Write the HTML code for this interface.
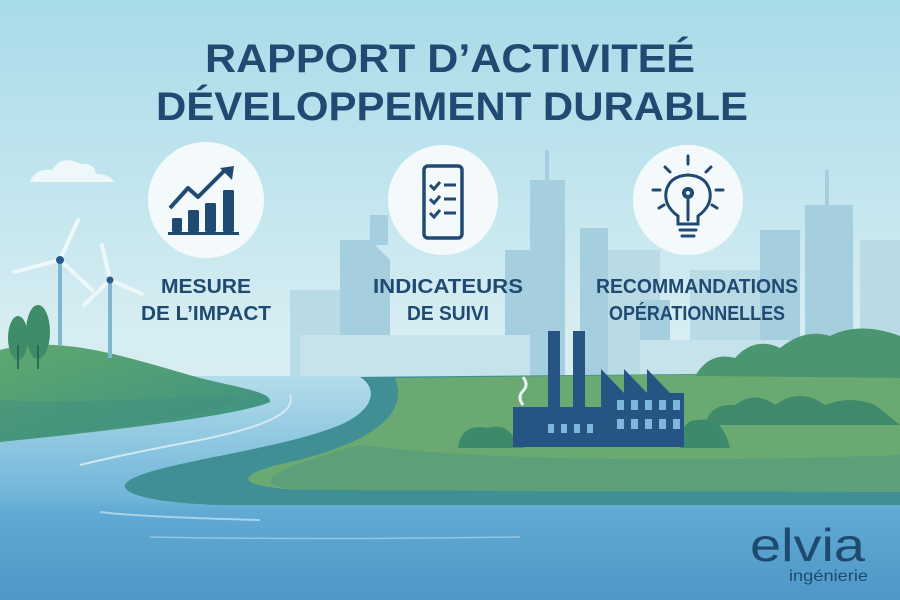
<!DOCTYPE html>
<html><head><meta charset="utf-8"><style>
html,body{margin:0;padding:0;width:900px;height:600px;overflow:hidden}
svg{display:block}
text{font-family:"Liberation Sans",sans-serif}
</style></head><body>
<svg width="900" height="600" viewBox="0 0 900 600" xmlns="http://www.w3.org/2000/svg">
<defs>
<linearGradient id="sky" x1="0" y1="0" x2="0" y2="1">
<stop offset="0" stop-color="#a8dbe9"/><stop offset="0.55" stop-color="#d6edf2"/><stop offset="1" stop-color="#dcefef"/>
</linearGradient>
<linearGradient id="water" x1="0" y1="378" x2="0" y2="600" gradientUnits="userSpaceOnUse">
<stop offset="0" stop-color="#b2dcea"/><stop offset="0.55" stop-color="#6fb4d8"/><stop offset="0.6" stop-color="#60aad4"/><stop offset="1" stop-color="#4e97c7"/>
</linearGradient>
<linearGradient id="hillL" x1="0" y1="0" x2="1" y2="1">
<stop offset="0" stop-color="#5fa86e"/><stop offset="1" stop-color="#3a9084"/>
</linearGradient>
</defs>
<rect width="900" height="600" fill="url(#sky)"/>
<!-- cloud -->
<path d="M30 182 q5-14 22-12 q10-16 28-6 q14-2 16 10 q14 0 18 8 z" fill="#eef7fa"/>
<!-- skyline -->
<g fill="#b9dbe6">
<rect x="290" y="290" width="60" height="90"/>
<rect x="600" y="250" width="60" height="130"/>
<rect x="690" y="270" width="70" height="110"/>
<rect x="860" y="240" width="40" height="140"/>
</g>
<g fill="#a5cfde">
<path d="M340 240 h30 l20 20 v120 h-50z"/>
<rect x="370" y="215" width="18" height="30"/>
<path d="M530 180 h35 v200 h-35z"/><rect x="545" y="150" width="4" height="30"/>
<rect x="580" y="228" width="28" height="150"/>
<rect x="505" y="250" width="25" height="130"/>
<rect x="805" y="205" width="48" height="175"/><rect x="825" y="170" width="4" height="40"/>
<rect x="760" y="230" width="40" height="150"/>
<rect x="640" y="300" width="30" height="80"/>
</g>
<g fill="#c6e2ea">
<rect x="300" y="335" width="230" height="45"/>
<rect x="640" y="340" width="260" height="40"/>
</g>
<!-- water base -->
<rect x="0" y="376" width="900" height="224" fill="url(#water)"/>
<!-- right land: teal bank -->
<path d="M360 377 L900 372 L900 505 L220 505 C150 503 110 492 130 480 C160 462 280 450 340 425 C375 410 378 388 360 377 Z" fill="#3f8f95"/>
<path d="M395 378 L900 372 L900 492 L300 490 C230 486 235 474 290 462 C370 443 410 415 395 378 Z" fill="#6aaa72"/>
<path d="M360 445 C500 462 700 462 900 455 L900 492 L300 490 C250 486 260 472 360 445 Z" fill="#5c9f78"/>
<!-- trees right -->
<path d="M695 376 q15-25 40-18 q20-22 45-10 q25-20 50-12 q30-15 70 0 L900 378z" fill="#4a9670"/>
<path d="M705 425 q5-22 30-20 q20-15 40 0 q25-18 50 0 q25-10 50 0 L900 425z" fill="#3e8a6b"/>
<!-- trees at factory -->
<path d="M458 448 q3-25 30-20 q15-5 25 8 L525 448z" fill="#3b8a6a"/>
<path d="M680 448 q0-30 20-28 q22-5 30 28z" fill="#3b8a6a"/>
<!-- factory -->
<g fill="#265584">
<rect x="548" y="331" width="12" height="80"/>
<rect x="573" y="331" width="12" height="80"/>
<rect x="513" y="407" width="92" height="40"/>
<path d="M601 447 V369 l23 24 V369 l23 24 V369 l23 24 h14 v54z"/>
</g>
<g fill="#7fb7dc">
<rect x="548" y="424" width="6" height="9"/><rect x="561" y="424" width="6" height="9"/><rect x="574" y="424" width="6" height="9"/><rect x="587" y="424" width="6" height="9"/>
<rect x="617" y="400" width="7" height="10"/><rect x="631" y="400" width="7" height="10"/><rect x="645" y="400" width="7" height="10"/><rect x="659" y="400" width="7" height="10"/><rect x="673" y="400" width="7" height="10"/>
<rect x="617" y="419" width="7" height="10"/><rect x="631" y="419" width="7" height="10"/><rect x="645" y="419" width="7" height="10"/><rect x="659" y="419" width="7" height="10"/><rect x="673" y="419" width="7" height="10"/>
</g>
<path d="M523 405 q-6-8 0-14 q6-6 0-14" stroke="#e8f4f6" stroke-width="3" fill="none"/>
<!-- left hill -->
<path d="M0 350 C60 335 120 355 200 378 C240 388 272 392 270 402 C240 415 120 430 0 442 Z" fill="url(#hillL)"/>
<path d="M0 400 C90 405 170 395 240 398 C230 412 120 428 0 442 Z" fill="#3f9080" opacity="0.5"/>
<!-- river highlights -->
<path d="M290 395 q10 25-90 45 q-80 15-120 25" stroke="#e0f1f7" stroke-width="2" fill="none" opacity="0.8"/>
<path d="M100 512 q40 5 160 8" stroke="#d8eef5" stroke-width="2" fill="none" opacity="0.6"/>
<path d="M150 537 q150 3 370 0" stroke="#cfe8f2" stroke-width="1.5" fill="none" opacity="0.5"/>
<!-- trees left -->
<ellipse cx="18" cy="338" rx="10" ry="22" fill="#3e8c68"/><ellipse cx="38" cy="332" rx="12" ry="27" fill="#3e8c68"/>
<rect x="17" y="345" width="2" height="24" fill="#2d6a55"/><rect x="37" y="345" width="2" height="24" fill="#2d6a55"/>
<!-- turbines -->
<g stroke="#eef7fa" stroke-width="4" stroke-linecap="round">
<line x1="60" y1="260" x2="78" y2="220"/><line x1="60" y1="260" x2="14" y2="272"/><line x1="60" y1="260" x2="92" y2="290"/>
<line x1="110" y1="280" x2="102" y2="245"/><line x1="110" y1="280" x2="84" y2="305"/><line x1="110" y1="280" x2="142" y2="294"/>
</g>
<rect x="58" y="260" width="4" height="85" fill="#7fb6cf"/>
<rect x="108" y="280" width="4" height="78" fill="#7fb6cf"/>
<circle cx="60" cy="260" r="4" fill="#2b5a8a"/><circle cx="110" cy="280" r="3.5" fill="#2b5a8a"/>
<!-- title -->
<g fill="#204a72" font-weight="bold" text-anchor="middle" font-size="40">
<text x="450" y="72" textLength="490" lengthAdjust="spacingAndGlyphs">RAPPORT D’ACTIVITEÉ</text>
<text x="452" y="120" textLength="592" lengthAdjust="spacingAndGlyphs">DÉVELOPPEMENT DURABLE</text>
</g>
<!-- circles -->
<circle cx="206" cy="200" r="58" fill="#f4fafc"/>
<circle cx="443" cy="200" r="55" fill="#f4fafc"/>
<circle cx="688" cy="200" r="55" fill="#f4fafc"/>
<!-- chart icon -->
<g fill="#204a72">
<rect x="172" y="218" width="10" height="14" rx="1.5"/><rect x="188" y="210" width="11" height="22" rx="1.5"/><rect x="205" y="203" width="11" height="29" rx="1.5"/><rect x="223" y="190" width="11" height="42" rx="1.5"/>
<rect x="168" y="232" width="71" height="3"/>
</g>
<path d="M170 208 l18-20 l10 9 l26-26" stroke="#204a72" stroke-width="4" fill="none" stroke-linejoin="round"/>
<path d="M220 168 l14-2 l-2 14z" fill="#204a72"/>
<!-- checklist icon -->
<rect x="424" y="166" width="38" height="72" rx="4" fill="none" stroke="#204a72" stroke-width="3.5"/>
<g stroke="#204a72" stroke-width="3" fill="none">
<path d="M430 185 l4 4 l6-7 M430 199 l4 4 l6-7 M430 213 l4 4 l6-7"/>
<path d="M444 185 h12 M444 199 h12 M444 213 h12"/>
</g>
<!-- bulb icon -->
<g stroke="#204a72" stroke-width="3" fill="none" stroke-linecap="round">
<path d="M678 224 v-8 q-14-10-12-24 q3-16 22-17 q19 1 22 17 q2 14-12 24 v8z"/>
<path d="M680 230 h16 M682 236 h12"/>
<path d="M688 164 v-8 M670 172 l-5-5 M706 172 l5-5 M660 190 h-7 M716 190 h7 M664 205 l-5 3 M712 205 l5 3"/>
<path d="M688 200 v20"/>
</g>
<circle cx="688" cy="193" r="6" fill="#204a72"/><circle cx="688" cy="193" r="2" fill="#f4fafc"/>
<!-- labels -->
<g fill="#204a72" font-weight="bold" text-anchor="middle" font-size="20">
<text x="206" y="293" textLength="90" lengthAdjust="spacingAndGlyphs">MESURE</text>
<text x="206" y="320" textLength="130" lengthAdjust="spacingAndGlyphs">DE L’IMPACT</text>
<text x="448" y="293" textLength="150" lengthAdjust="spacingAndGlyphs">INDICATEURS</text>
<text x="448" y="320" textLength="82" lengthAdjust="spacingAndGlyphs">DE SUIVI</text>
<text x="697" y="293" textLength="202" lengthAdjust="spacingAndGlyphs">RECOMMANDATIONS</text>
<text x="697" y="320" textLength="176" lengthAdjust="spacingAndGlyphs">OPÉRATIONNELLES</text>
</g>
<!-- logo -->
<text x="750" y="561" font-size="46" fill="#1d4a6e" textLength="115" lengthAdjust="spacingAndGlyphs" font-family="DejaVu Sans, sans-serif">elvia</text>
<text x="789" y="581" font-size="16" fill="#1d4a6e" textLength="79" lengthAdjust="spacingAndGlyphs" font-family="DejaVu Sans, sans-serif">ingénierie</text>
</svg>
</body></html>
